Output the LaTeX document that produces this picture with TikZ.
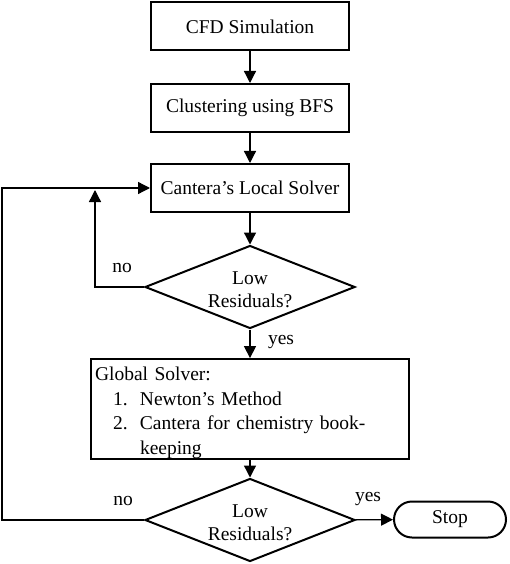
\documentclass[tikz,border=0pt]{standalone}
\usepackage{fontspec}
\setmainfont{Liberation Serif}
\usetikzlibrary{arrows.meta,shapes.geometric}
\begin{document}
\begin{tikzpicture}[x=1pt,y=-1pt,
  font=\fontsize{19.5}{23}\selectfont,
  box/.style={draw, line width=2pt, minimum width=198pt, minimum height=48pt, inner sep=0pt},
  dec/.style={draw, diamond, line width=2pt, aspect=2.52, minimum width=210pt, minimum height=83pt, inner sep=0pt, align=center},
  conn/.style={line width=1.3pt, -{Triangle[length=12pt,width=12pt]}},
  lbl/.style={inner sep=0pt}]
\useasboundingbox (0,0) rectangle (510,564);
\node[box] (cfd) at (250,26.5) {CFD Simulation};
\node[box] (clu) at (250,108) {Clustering using BFS};
\node[box] (loc) at (250,188) {Cantera’s Local Solver};
\node[dec] (d1) at (250,287) {\rule{0pt}{19pt}Low\\Residuals?};
\node[box, minimum width=318pt, minimum height=95pt, text width=310pt, align=left,
      font=\fontsize{19.5}{24.7}\selectfont] (glob) at (250,409)
  {\rule{0pt}{21.5pt}Global Solver:\\
   \hspace*{18pt}\makebox[27pt][l]{1.}Newton’s Method\\
   \hspace*{18pt}\makebox[27pt][l]{2.}Cantera for chemistry book-\\
   \hspace*{45pt}keeping};
\node[dec] (d2) at (250,520) {\rule{0pt}{18pt}Low\\Residuals?};
\node[draw, line width=2pt, rounded corners=18pt, minimum width=112pt, minimum height=36pt, inner sep=0pt] (stop) at (450,519.5) {Stop};
\coordinate (c1) at (95,287);
\coordinate (c2) at (95,190);
\coordinate (c3) at (2,520);
\coordinate (c4) at (2,188);
\draw[conn] (cfd) -- (clu);
\draw[conn] (clu) -- (loc);
\draw[conn] (loc) -- (d1);
\draw[conn] (d1) -- (glob);
\draw[conn] (glob) -- (d2);
\draw[conn] (d2) -- (stop);
\draw[conn] (d1.west) -- (c1) -- (c2);
\draw[conn] (d2.west) -- (c3) -- (c4) -- (loc.west);
\node[lbl] (no1) at (122,268) {no};
\node[lbl] (yes1) at (281,342) {yes};
\node[lbl] (no2) at (123,501) {no};
\node[lbl] (yes2) at (368,499) {yes};
\end{tikzpicture}
\end{document}
